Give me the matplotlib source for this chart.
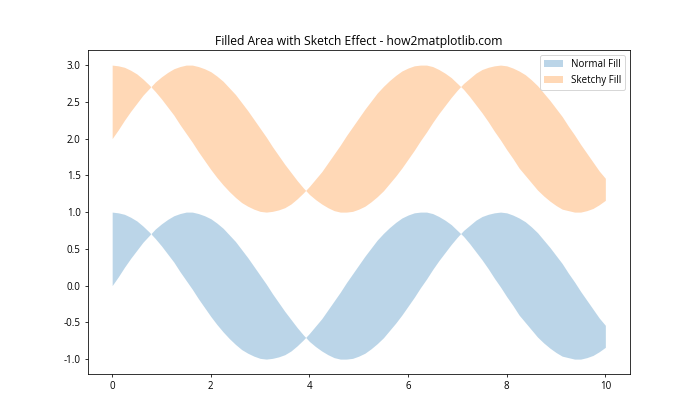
import matplotlib
matplotlib.use("Agg")
import matplotlib.pyplot as plt
import numpy as np

# values, x step 0.125
x = [0.0, 0.125, 0.25, 0.375, 0.5, 0.625, 0.75, 0.875,
     1.0, 1.125, 1.25, 1.375, 1.5, 1.625, 1.75, 1.875,
     2.0, 2.125, 2.25, 2.375, 2.5, 2.625, 2.75, 2.875,
     3.0, 3.125, 3.25, 3.375, 3.5, 3.625, 3.75, 3.875,
     4.0, 4.125, 4.25, 4.375, 4.5, 4.625, 4.75, 4.875,
     5.0, 5.125, 5.25, 5.375, 5.5, 5.625, 5.75, 5.875,
     6.0, 6.125, 6.25, 6.375, 6.5, 6.625, 6.75, 6.875,
     7.0, 7.125, 7.25, 7.375, 7.5, 7.625, 7.75, 7.875,
     8.0, 8.125, 8.25, 8.375, 8.5, 8.625, 8.75, 8.875,
     9.0, 9.125, 9.25, 9.375, 9.5, 9.625, 9.75, 9.875,
     10.0]
lower_a = [0.00, 0.12, 0.25, 0.37, 0.48, 0.59, 0.68, 0.77,
           0.84, 0.90, 0.95, 0.98, 1.00, 1.00, 0.98, 0.95,
           0.91, 0.85, 0.78, 0.69, 0.60, 0.49, 0.38, 0.26,
           0.14, 0.02, -0.11, -0.23, -0.35, -0.46, -0.57, -0.67,
           -0.76, -0.83, -0.89, -0.94, -0.98, -1.00, -1.00, -0.99,
           -0.96, -0.92, -0.86, -0.79, -0.71, -0.61, -0.51, -0.40,
           -0.28, -0.16, -0.03, 0.09, 0.22, 0.34, 0.45, 0.56,
           0.66, 0.75, 0.82, 0.89, 0.94, 0.97, 0.99, 1.00,
           0.99, 0.96, 0.92, 0.87, 0.80, 0.72, 0.62, 0.52,
           0.41, 0.30, 0.17, 0.05, -0.08, -0.20, -0.32, -0.44,
           -0.54]
lower_b = [1.00, 0.99, 0.97, 0.93, 0.88, 0.81, 0.73, 0.64,
           0.54, 0.43, 0.32, 0.19, 0.07, -0.05, -0.18, -0.30,
           -0.42, -0.53, -0.63, -0.72, -0.80, -0.87, -0.92, -0.96,
           -0.99, -1.00, -0.99, -0.97, -0.94, -0.89, -0.82, -0.74,
           -0.65, -0.55, -0.45, -0.33, -0.21, -0.09, 0.04, 0.16,
           0.28, 0.40, 0.51, 0.62, 0.71, 0.79, 0.86, 0.92,
           0.96, 0.99, 1.00, 1.00, 0.98, 0.94, 0.89, 0.83,
           0.75, 0.67, 0.57, 0.46, 0.35, 0.23, 0.10, -0.02,
           -0.15, -0.27, -0.40, -0.50, -0.60, -0.70, -0.78, -0.85,
           -0.91, -0.96, -0.98, -1.00, -1.00, -0.98, -0.95, -0.90,
           -0.84]
offset = 2

plt.rcParams['font.family'] = ['Open Sans', 'DejaVu Sans']
plt.rcParams['axes.unicode_minus'] = False

fig, ax = plt.subplots(figsize=(10, 6), dpi=70)
x = np.array(x)
a = np.array(lower_a)
b = np.array(lower_b)
ax.fill_between(x, a, b, alpha=0.3, color='tab:blue', linewidth=0, label='Normal Fill')
ax.fill_between(x, a + offset, b + offset, alpha=0.3, color='tab:orange', linewidth=0, label='Sketchy Fill')
ax.set_title('Filled Area with Sketch Effect - how2matplotlib.com', fontsize=12.5)
ax.set_xticks([0, 2, 4, 6, 8, 10])
ax.set_yticks(np.arange(-1.0, 3.01, 0.5))
ax.tick_params(labelsize=10)
ax.legend(loc='upper right', fontsize=10)
fig.savefig('out.png')
